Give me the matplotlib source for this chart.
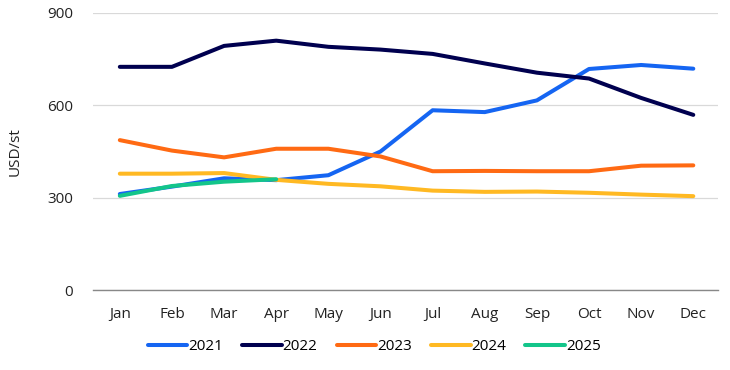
import numpy as np
import matplotlib.pyplot as plt

plt.rcParams['font.family'] = ['Open Sans', 'DejaVu Sans']

months = ['Jan', 'Feb', 'Mar', 'Apr', 'May', 'Jun',
          'Jul', 'Aug', 'Sep', 'Oct', 'Nov', 'Dec']

vals_2021 = [312, 336, 363, 357, 373, 450, 584, 578, 616, 718, 731, 719]
vals_2022 = [725, 725, 793, 810, 790, 781, 767, 736, 706, 687, 624, 569]
vals_2023 = [487, 453, 431, 459, 459, 434, 386, 387, 386, 386, 404, 405]
vals_2024 = [378, 378, 380, 358, 345, 337, 323, 319, 320, 316, 310, 305]
vals_2025 = [306, 338, 352, 360]

series = [
    ('2021', vals_2021, '#1565f2'),
    ('2022', vals_2022, '#00004f'),
    ('2023', vals_2023, '#ff6a13'),
    ('2024', vals_2024, '#ffb923'),
    ('2025', vals_2025, '#13c58a'),
]

fig = plt.figure(figsize=(7.3, 3.7), dpi=100)
ax = fig.add_axes([0.127, 0.216, 0.857, 0.749])

for label, vals, color in series:
    x = np.arange(len(vals))
    ax.plot(x, vals, color=color, lw=2.9, label=label,
            solid_capstyle='round', solid_joinstyle='round')

ax.set_xlim(-0.52, 11.48)
ax.set_ylim(0, 900)
ax.set_yticks([0, 300, 600, 900])
ax.set_xticks(range(12))
ax.set_xticklabels(months)
ax.tick_params(axis='both', length=0, labelsize=11, colors='#222222')
ax.tick_params(axis='x', pad=12)
ax.tick_params(axis='y', pad=14)
ax.grid(axis='y', color='#d9d9d9', lw=0.9)
ax.set_axisbelow(True)
for side in ['top', 'right', 'left']:
    ax.spines[side].set_visible(False)
ax.spines['bottom'].set_color('#888888')
ax.spines['bottom'].set_linewidth(1.0)
ax.set_ylabel('USD/st', fontsize=11, color='#222222', labelpad=18)

ax.legend(loc='center', bbox_to_anchor=(0.45, -0.205), ncol=5, frameon=False,
          fontsize=11, handlelength=2.6, handletextpad=0.05, columnspacing=1.25)

fig.savefig('out.png', dpi=100)
